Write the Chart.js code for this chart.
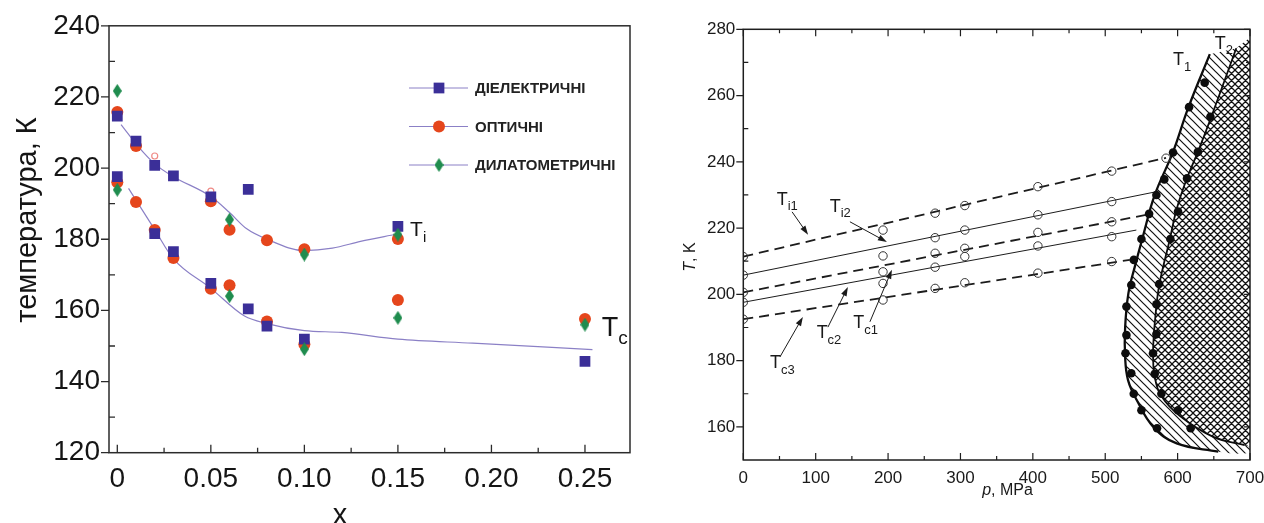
<!DOCTYPE html>
<html lang="uk">
<head>
<meta charset="utf-8">
<title>Температури фазових переходів</title>
<script src="https://cdn.jsdelivr.net/npm/chart.js@4.4.1/dist/chart.umd.min.js"></script>
<style>
  html, body { margin: 0; padding: 0; background: #fff; }
  #wrap { position: relative; width: 1264px; height: 523px; overflow: hidden; }
  #c1 { position: absolute; left: 0; top: 0; }
  #c2 { position: absolute; left: 640px; top: 0; }
</style>
</head>
<body>
<div id="wrap">
  <canvas id="c1" width="640" height="523"></canvas>
  <canvas id="c2" width="624" height="523"></canvas>
</div>
<script>
const FONT = "'Liberation Sans', Arial, Helvetica, sans-serif";

// ---------- left panel: transition temperatures vs x ----------
const xTicks = [0, 0.05, 0.10, 0.15, 0.20, 0.25];
const xTickLabels = ['0', '0.05', '0.10', '0.15', '0.20', '0.25'];
const yTicksL = [120, 140, 160, 180, 200, 220, 240];

const dielX = [0, 0, 0.01, 0.02, 0.02, 0.03, 0.03, 0.05, 0.05, 0.07, 0.07, 0.08, 0.10, 0.15, 0.25];
const dielT = [214.6, 197.6, 207.6, 200.8, 181.6, 197.8, 176.5, 191.9, 167.6, 194, 160.4, 155.6, 151.9, 183.6, 145.7];
const optX = [0, 0, 0.01, 0.01, 0.02, 0.03, 0.05, 0.05, 0.06, 0.06, 0.08, 0.08, 0.10, 0.10, 0.15, 0.15, 0.25];
const optT = [215.8, 196, 206.2, 190.5, 182.6, 174.7, 190.7, 166.1, 182.7, 167.1, 179.7, 156.9, 177.2, 150.5, 180.1, 162.9, 157.6];
const dilX = [0, 0, 0.06, 0.06, 0.10, 0.10, 0.15, 0.15, 0.25];
const dilT = [221.7, 193.9, 185.5, 164, 175.7, 149.1, 181.3, 157.9, 156];
const extraX = [0.02, 0.05];
const extraT = [203.4, 193.5];

// fitted curves
const fitTiX = [0.002, 0.011, 0.02, 0.03, 0.05, 0.06, 0.069, 0.08, 0.10, 0.115, 0.13, 0.149];
const fitTiT = [212.2, 206.2, 201.2, 197.6, 192, 187.5, 183, 180, 176.8, 177.5, 179.4, 181.4];
const fitTcX = [0.006, 0.02, 0.03, 0.05, 0.068, 0.08, 0.10, 0.12, 0.15, 0.19, 0.254];
const fitTcT = [194.3, 182.7, 174.5, 166.2, 158.4, 156.3, 154.3, 153.8, 151.9, 150.8, 149];

const lLabelSub = ['i', 'c'];
const lLabelX = [0.1565, 0.259];
const lLabelT = [182.5, 154.8];
const lLabelSize = [21, 27];

// ---------- right panel: T vs p ----------
const pTicks = [0, 100, 200, 300, 400, 500, 600, 700];
const tTicks = [160, 180, 200, 220, 240, 260, 280];

const ti1P = [0, 193, 265, 306, 407, 509, 584];
const ti1T = [211.4, 219.4, 224.5, 226.8, 232.5, 237.2, 241.1];
const ti2P = [0, 193, 265, 306, 407, 509];
const ti2T = [205.8, 211.6, 217.1, 219.4, 224.0, 228.0];
const tc2P = [0, 193, 265, 306, 407, 509];
const tc2T = [200.6, 206.8, 212.4, 213.9, 218.7, 221.9];
const tc1P = [0, 193, 265, 306, 407, 509];
const tc1T = [197.6, 203.3, 208.2, 211.4, 214.6, 217.4];
const tc3P = [0, 193, 265, 306, 407, 509];
const tc3T = [192.5, 198.3, 201.8, 203.5, 206.4, 209.9];

const ti1FitP = [0, 584], ti1FitT = [211.4, 241.2];
const ti2FitP = [0, 571], ti2FitT = [205.8, 231.0];
const tc2FitP = [0, 557], tc2FitT = [200.6, 224.0];
const tc1FitP = [0, 543], tc1FitT = [197.6, 219.4];
const tc3FitP = [0, 534], tc3FitT = [192.5, 210.4];

// phase boundaries T1, T2 and their points
const t1P = [644.5, 614.5, 593.7, 568.4, 552, 540.8, 532, 527.5, 527.5, 531.5, 543.5, 566.4, 598.7, 656.2];
const t1T = [272.5, 256.2, 243, 230, 217.4, 208.3, 200.3, 190, 181, 174.1, 168.1, 160, 155, 152.5];
const t2P = [681, 646.6, 628, 612, 598.4, 589, 575, 570, 566, 568.5, 577, 603.3, 649.3, 692.6];
const t2T = [274.3, 253.6, 243, 234.5, 225.5, 216.4, 203.3, 195, 182.2, 175, 169.5, 163.3, 157, 154.5];
const t1DotP = [637.4, 615.8, 593.7, 581.6, 570.7, 560.6, 550, 539.5, 536, 529.3, 529.3, 528, 536, 539.4, 550, 571.6];
const t1DotT = [263.9, 256.5, 242.8, 234.7, 230, 224.3, 216.7, 210.4, 202.8, 196.3, 187.7, 182.2, 176.2, 170, 165, 159.6];
const t2DotP = [645.3, 628, 613, 600.6, 590, 574.4, 570.7, 570.7, 566, 568.4, 577.6, 600.6, 618];
const t2DotT = [253.6, 243, 235, 225, 216.7, 203.1, 197, 188, 182.2, 176, 170, 165, 159.6];
const hatchCornerP = [700, 700], hatchCornerT = [152.2, 154.4];
const crossCornerP = [700, 700], crossCornerT = [154.4, 277.5];

// annotations
const rLabelSub = ['i1', 'i2', 'c2', 'c1', 'c3', '1', '2'];
const rLabelP = [46.1, 119.4, 101.3, 151.9, 36.9, 593.7, 651.2];
const rLabelT = [228.5, 226.5, 188.2, 191.3, 179.2, 270.7, 275.6];
const arrowFromP = [67.4, 147.3, 116.9, 174.9, 50.6];
const arrowFromT = [224.9, 221.9, 190.1, 191.7, 181.1];
const arrowToP = [89.5, 198.4, 144.5, 205.3, 82.3];
const arrowToT = [218.0, 215.8, 202.2, 207.4, 193.2];

// ---------- helpers ----------
function pts(xs, ys) { return xs.map((x, i) => ({ x: x, y: ys[i] })); }

function diamond(w, h, color) {
  const c = document.createElement('canvas');
  c.width = w; c.height = h;
  const g = c.getContext('2d');
  g.fillStyle = color;
  g.beginPath();
  g.moveTo(w / 2, 0); g.lineTo(w, h / 2); g.lineTo(w / 2, h); g.lineTo(0, h / 2);
  g.closePath(); g.fill();
  return c;
}

// diagonal line tile; cross adds the other diagonal
function hatchTile(size, cross, lw) {
  const c = document.createElement('canvas');
  c.width = size; c.height = size;
  const g = c.getContext('2d');
  g.strokeStyle = '#111';
  g.lineWidth = lw;
  g.beginPath();
  for (const k of [-size, 0, size]) {
    g.moveTo(k - 1, -1); g.lineTo(k + size + 1, size + 1);
    if (cross) { g.moveTo(k + size + 1, -1); g.lineTo(k - 1, size + 1); }
  }
  g.stroke();
  return c;
}

function subText(ctx, x, y, base, sub, size) {
  ctx.textAlign = 'left';
  ctx.textBaseline = 'middle';
  ctx.font = size + 'px ' + FONT;
  ctx.fillText(base, x, y);
  const w = ctx.measureText(base).width;
  ctx.font = Math.round(size * 0.7) + 'px ' + FONT;
  ctx.fillText(sub, x + w, y + size * 0.38);
}

function arrow(ctx, x0, y0, x1, y1) {
  const a = Math.atan2(y1 - y0, x1 - x0);
  const c = Math.cos(a), s = Math.sin(a);
  ctx.beginPath();
  ctx.moveTo(x0, y0);
  ctx.lineTo(x1 - 6 * c, y1 - 6 * s);
  ctx.stroke();
  ctx.beginPath();
  ctx.moveTo(x1, y1);
  ctx.lineTo(x1 - 9 * c + 3 * s, y1 - 9 * s - 3 * c);
  ctx.lineTo(x1 - 9 * c - 3 * s, y1 - 9 * s + 3 * c);
  ctx.closePath();
  ctx.fill();
}

function mids(arr, lo, hi) {
  const out = [];
  for (let i = 0; i < arr.length; i++) {
    const step = i < arr.length - 1 ? arr[i + 1] - arr[i] : arr[i] - arr[i - 1];
    const m = arr[i] + step / 2;
    if (m > lo && m < hi) out.push(m);
  }
  return out;
}

// ---------- left chart ----------
const BLUE = '#3b2f98';
const RED = '#e5461c';
const GREEN = '#1f8c4e';
const FITC = '#8b80c6';
const greenDiamond = diamond(9, 14, GREEN);

const leftDecor = {
  id: 'leftDecor',
  afterDraw(chart) {
    const { ctx, chartArea: a, scales: { x, y } } = chart;
    ctx.save();
    ctx.strokeStyle = '#2b2b2b';
    ctx.lineWidth = 1.5;
    ctx.strokeRect(a.left, a.top, a.right - a.left, a.bottom - a.top);
    ctx.lineWidth = 1.3;
    ctx.beginPath();
    xTicks.forEach(v => { const px = x.getPixelForValue(v); ctx.moveTo(px, a.bottom); ctx.lineTo(px, a.bottom - 8); });
    mids(xTicks, x.min, x.max).forEach(v => { const px = x.getPixelForValue(v); ctx.moveTo(px, a.bottom); ctx.lineTo(px, a.bottom - 5); });
    yTicksL.forEach(v => { const py = y.getPixelForValue(v); ctx.moveTo(a.left, py); ctx.lineTo(a.left - 8, py); });
    mids(yTicksL, y.min, y.max).forEach(v => { const py = y.getPixelForValue(v); ctx.moveTo(a.left, py); ctx.lineTo(a.left + 6, py); });
    ctx.stroke();

    // axis titles
    ctx.fillStyle = '#151515';
    ctx.font = '29px ' + FONT;
    ctx.textAlign = 'center';
    ctx.textBaseline = 'alphabetic';
    ctx.save();
    ctx.translate(36, 220);
    ctx.rotate(-Math.PI / 2);
    ctx.fillText('температура, К', 0, 0);
    ctx.restore();
    ctx.fillText('x', 340, 524);

    // legend
    const order = [1, 2, 0];
    order.forEach((di, row) => {
      const ds = chart.data.datasets[di];
      const ly = 88 + row * 38.5;
      ctx.strokeStyle = FITC;
      ctx.lineWidth = 1;
      ctx.beginPath(); ctx.moveTo(409, ly); ctx.lineTo(468, ly); ctx.stroke();
      ctx.fillStyle = ds.backgroundColor;
      Chart.helpers.drawPoint(ctx, { pointStyle: ds.pointStyle, radius: ds.pointRadius, rotation: 0, borderWidth: 0 }, 439, ly);
      ctx.fillStyle = '#222';
      ctx.font = 'bold 15px ' + FONT;
      ctx.textAlign = 'left';
      ctx.textBaseline = 'middle';
      ctx.fillText(ds.label, 475, ly + 1);
    });

    // Ti / Tc labels
    ctx.fillStyle = '#151515';
    lLabelSub.forEach((s, i) => {
      subText(ctx, x.getPixelForValue(lLabelX[i]), y.getPixelForValue(lLabelT[i]), 'T', s, lLabelSize[i]);
    });
    ctx.restore();
  }
};

new Chart(document.getElementById('c1'), {
  type: 'scatter',
  data: {
    datasets: [
      { label: 'ДИЛАТОМЕТРИЧНІ', data: pts(dilX, dilT), pointStyle: greenDiamond, pointRadius: 7, backgroundColor: GREEN, borderWidth: 0 },
      { label: 'ДІЕЛЕКТРИЧНІ', data: pts(dielX, dielT), pointStyle: 'rect', pointRadius: 7.6, backgroundColor: BLUE, borderWidth: 0 },
      { label: 'ОПТИЧНІ', data: pts(optX, optT), pointStyle: 'circle', pointRadius: 6, backgroundColor: RED, borderWidth: 0 },
      { label: 'extra', data: pts(extraX, extraT), pointStyle: 'circle', pointRadius: 3, backgroundColor: 'rgba(255,255,255,0)', borderColor: '#ef8a86', borderWidth: 1.2 },
      { label: 'fit Ti', data: pts(fitTiX, fitTiT), showLine: true, pointRadius: 0, borderColor: FITC, borderWidth: 1.2, cubicInterpolationMode: 'monotone' },
      { label: 'fit Tc', data: pts(fitTcX, fitTcT), showLine: true, pointRadius: 0, borderColor: FITC, borderWidth: 1.2, cubicInterpolationMode: 'monotone' }
    ]
  },
  options: {
    responsive: false,
    animation: false,
    layout: { padding: { left: 0, right: 10, top: 25.5, bottom: 0 } },
    plugins: { legend: { display: false }, tooltip: { enabled: false } },
    scales: {
      x: {
        type: 'linear', min: -0.00444, max: 0.27407,
        grid: { display: false, drawTicks: false }, border: { display: false },
        afterBuildTicks: s => { s.ticks = xTicks.map(v => ({ value: v })); },
        afterFit: s => { s.height = 70.3; s.paddingLeft = 0; s.paddingRight = 0; },
        ticks: { autoSkip: false, maxRotation: 0, padding: 10, color: '#151515', font: { family: FONT, size: 28 },
                 callback: (v, i) => xTickLabels[i] }
      },
      y: {
        type: 'linear', min: 120, max: 240,
        grid: { display: false, drawTicks: false }, border: { display: false },
        afterBuildTicks: s => { s.ticks = yTicksL.map(v => ({ value: v })); },
        afterFit: s => { s.width = 109; },
        ticks: { autoSkip: false, padding: 9, color: '#151515', font: { family: FONT, size: 28 } }
      }
    }
  },
  plugins: [leftDecor]
});

// ---------- right chart ----------
const c2 = document.getElementById('c2');
const c2ctx = c2.getContext('2d');
const hatchFill = c2ctx.createPattern(hatchTile(8, false, 1.2), 'repeat');
const crossFill = c2ctx.createPattern(hatchTile(7, true, 1.3), 'repeat');

const hatchP = t1P.concat(hatchCornerP, t2P.slice().reverse());
const hatchT = t1T.concat(hatchCornerT, t2T.slice().reverse());
const crossP = t2P.concat(crossCornerP);
const crossT = t2T.concat(crossCornerT);
const HATCH_DS = 12, CROSS_DS = 13;

// fill the two phase regions along the library's own line paths
const regionFill = {
  id: 'regionFill',
  beforeDatasetsDraw(chart) {
    const { ctx, chartArea: a } = chart;
    ctx.save();
    ctx.beginPath();
    ctx.rect(a.left, a.top, a.right - a.left, a.bottom - a.top);
    ctx.clip();
    [[HATCH_DS, hatchFill], [CROSS_DS, crossFill]].forEach(([i, pat]) => {
      const line = chart.getDatasetMeta(i).dataset;
      line.updateControlPoints(a, 'x');
      ctx.beginPath();
      line.path(ctx);
      ctx.closePath();
      ctx.fillStyle = pat;
      ctx.fill();
    });
    ctx.restore();
  }
};

const rightDecor = {
  id: 'rightDecor',
  afterDraw(chart) {
    const { ctx, chartArea: a, scales: { x, y } } = chart;
    ctx.save();
    ctx.strokeStyle = '#1e1e1e';
    ctx.lineWidth = 1.5;
    ctx.strokeRect(a.left, a.top, a.right - a.left, a.bottom - a.top);
    ctx.lineWidth = 1.2;
    ctx.beginPath();
    pTicks.forEach(v => {
      const px = x.getPixelForValue(v);
      ctx.moveTo(px, a.bottom); ctx.lineTo(px, a.bottom - 7);
      ctx.moveTo(px, a.top); ctx.lineTo(px, a.top + 7);
    });
    mids(pTicks, x.min, x.max).forEach(v => {
      const px = x.getPixelForValue(v);
      ctx.moveTo(px, a.bottom); ctx.lineTo(px, a.bottom - 4);
      ctx.moveTo(px, a.top); ctx.lineTo(px, a.top + 4);
    });
    tTicks.forEach(v => {
      const py = y.getPixelForValue(v);
      ctx.moveTo(a.left, py); ctx.lineTo(a.left - 7, py);
      ctx.moveTo(a.right, py); ctx.lineTo(a.right - 6, py);
    });
    mids([140].concat(tTicks), y.min, y.max).forEach(v => {
      const py = y.getPixelForValue(v);
      ctx.moveTo(a.left, py); ctx.lineTo(a.left + 5, py);
      ctx.moveTo(a.right, py); ctx.lineTo(a.right - 4, py);
    });
    ctx.stroke();

    // axis titles with italic symbols
    ctx.fillStyle = '#1a1a1a';
    ctx.textBaseline = 'alphabetic';
    ctx.textAlign = 'left';
    const it = 'italic 16px ' + FONT, up = '16px ' + FONT;
    ctx.font = it; const wp = ctx.measureText('p').width;
    ctx.font = up; const wr = ctx.measureText(', MPa').width;
    let x0 = 367.5 - (wp + wr) / 2;
    ctx.font = it; ctx.fillText('p', x0, 495);
    ctx.font = up; ctx.fillText(', MPa', x0 + wp, 495);

    ctx.save();
    ctx.translate(55, 257);
    ctx.rotate(-Math.PI / 2);
    ctx.font = it; const wt = ctx.measureText('T').width;
    ctx.font = up; const wk = ctx.measureText(', K').width;
    x0 = -(wt + wk) / 2;
    ctx.font = it; ctx.fillText('T', x0, 0);
    ctx.font = up; ctx.fillText(', K', x0 + wt, 0);
    ctx.restore();

    // labels and arrows
    ctx.fillStyle = '#1a1a1a';
    rLabelSub.forEach((s, i) => {
      subText(ctx, x.getPixelForValue(rLabelP[i]), y.getPixelForValue(rLabelT[i]), 'T', s, 18);
    });
    ctx.strokeStyle = '#1a1a1a';
    ctx.lineWidth = 1;
    arrowFromP.forEach((p, i) => {
      arrow(ctx, x.getPixelForValue(p), y.getPixelForValue(arrowFromT[i]),
            x.getPixelForValue(arrowToP[i]), y.getPixelForValue(arrowToT[i]));
    });
    ctx.restore();
  }
};

function circles(ps, ts) {
  return { data: pts(ps, ts), pointStyle: 'circle', pointRadius: 4.2, borderColor: '#333', borderWidth: 1,
           backgroundColor: 'rgba(255,255,255,0)', clip: 0 };
}
function fitLine(ps, ts, dashed) {
  return { data: pts(ps, ts), showLine: true, pointRadius: 0, borderColor: '#1c1c1c',
           borderWidth: dashed ? 1.8 : 1, borderDash: dashed ? [10, 6] : [] };
}
function region(ps, ts) {
  return { data: pts(ps, ts), showLine: true, pointRadius: 0, borderWidth: 0,
           borderColor: 'rgba(0,0,0,0)', fill: false, tension: 0.4 };
}

new Chart(c2, {
  type: 'scatter',
  data: {
    datasets: [
      { data: pts(t1DotP, t1DotT), pointStyle: 'circle', pointRadius: 4.3, backgroundColor: '#0d0d0d', borderWidth: 0 },
      { data: pts(t2DotP, t2DotT), pointStyle: 'circle', pointRadius: 4.3, backgroundColor: '#0d0d0d', borderWidth: 0 },
      circles(ti1P, ti1T), circles(ti2P, ti2T), circles(tc2P, tc2T), circles(tc1P, tc1T), circles(tc3P, tc3T),
      fitLine(ti1FitP, ti1FitT, true), fitLine(ti2FitP, ti2FitT, false), fitLine(tc2FitP, tc2FitT, true),
      fitLine(tc1FitP, tc1FitT, false), fitLine(tc3FitP, tc3FitT, true),
      region(hatchP, hatchT),
      region(crossP, crossT),
      { data: pts(t1P, t1T), showLine: true, pointRadius: 0, borderColor: '#0d0d0d', borderWidth: 2.3, tension: 0.4 },
      { data: pts(t2P, t2T), showLine: true, pointRadius: 0, borderColor: '#0d0d0d', borderWidth: 1.8, tension: 0.4 }
    ]
  },
  options: {
    responsive: false,
    animation: false,
    layout: { padding: { left: 0, right: 14, top: 29.3, bottom: 0 } },
    plugins: { legend: { display: false }, tooltip: { enabled: false } },
    scales: {
      x: {
        type: 'linear', min: 0, max: 700,
        grid: { display: false, drawTicks: false }, border: { display: false },
        afterBuildTicks: s => { s.ticks = pTicks.map(v => ({ value: v })); },
        afterFit: s => { s.height = 63; s.paddingLeft = 0; s.paddingRight = 0; },
        ticks: { autoSkip: false, maxRotation: 0, padding: 8, color: '#1a1a1a', font: { family: FONT, size: 17 } }
      },
      y: {
        type: 'linear', min: 150, max: 280,
        grid: { display: false, drawTicks: false }, border: { display: false },
        afterBuildTicks: s => { s.ticks = tTicks.map(v => ({ value: v })); },
        afterFit: s => { s.width = 103.3; },
        ticks: { autoSkip: false, padding: 8, color: '#1a1a1a', font: { family: FONT, size: 17 } }
      }
    }
  },
  plugins: [regionFill, rightDecor]
});
</script>
</body>
</html>
